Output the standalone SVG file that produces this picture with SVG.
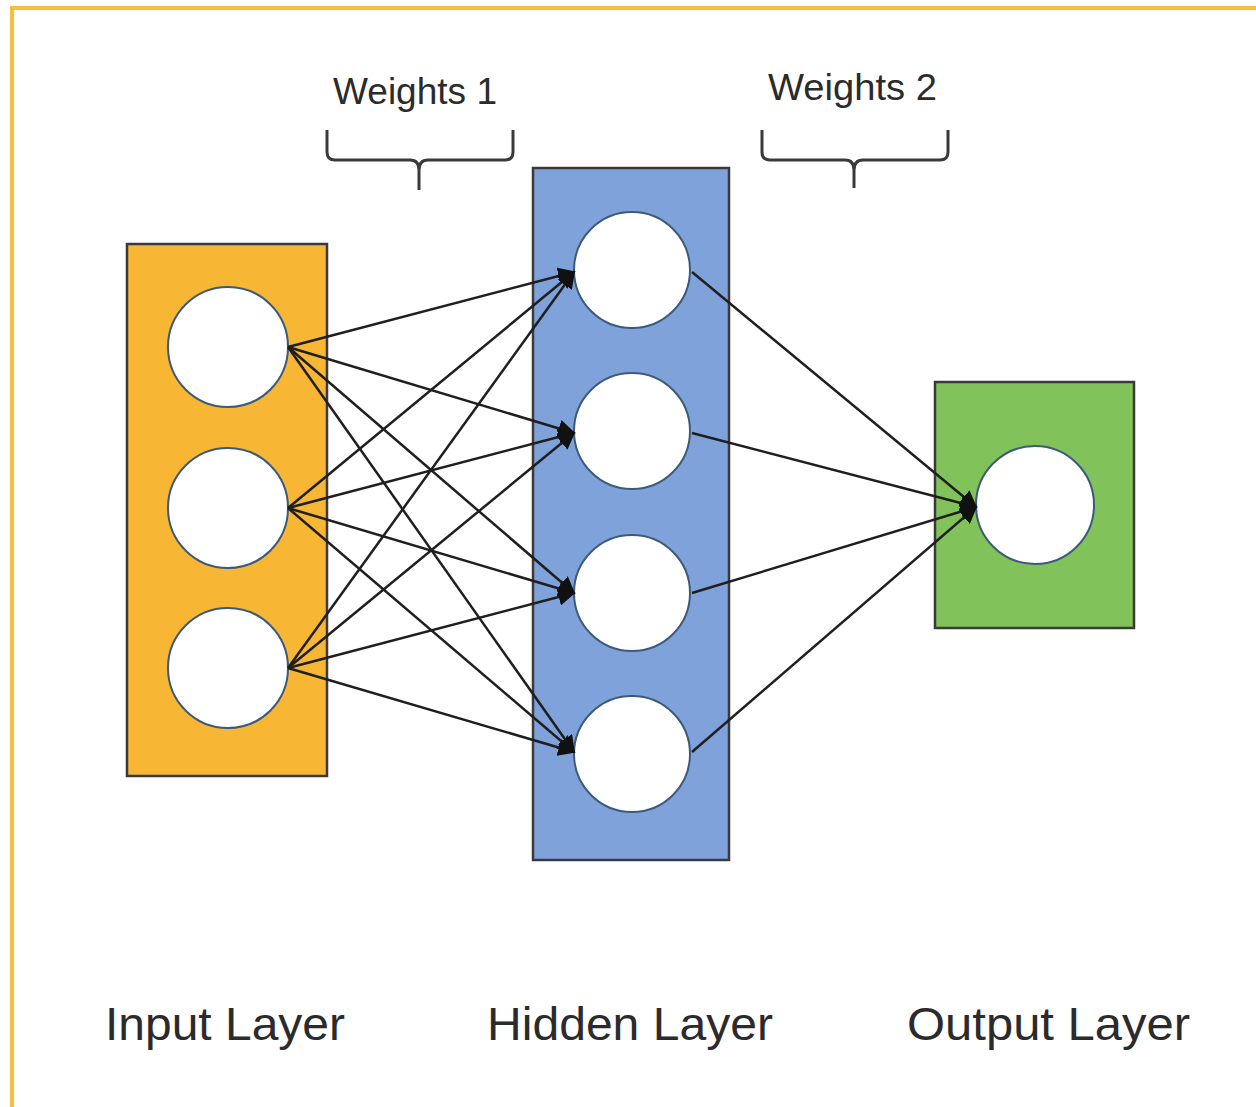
<svg xmlns="http://www.w3.org/2000/svg" width="1256" height="1107" viewBox="0 0 1256 1107">
<style>
.frame{stroke:#F7BE3A;stroke-width:4;fill:none}
.box{stroke:#3a3a3a;stroke-width:2.5}
.node{fill:#fff;stroke:#3c5a7a;stroke-width:2}
.edge{stroke:#1f1f1f;stroke-width:2.5;fill:none}
.brace{stroke:#3a3a3a;stroke-width:3;fill:none;stroke-linejoin:round}
.lbl{font-family:"Liberation Sans",Arial,sans-serif;fill:#2b2b2b}
</style>
<defs>
<marker id="ah" viewBox="0 0 10 10" refX="9" refY="5" markerWidth="7" markerHeight="7" markerUnits="strokeWidth" orient="auto">
<path d="M0,0 L10,5 L0,10 z" fill="#111"/>
</marker>
</defs>
<rect width="1256" height="1107" fill="#fff"/>
<path class="frame" d="M12,1107 V8 H1256"/>
<g id="weights1">
<text class="lbl" x="333" y="104" font-size="37" textLength="164" lengthAdjust="spacingAndGlyphs">Weights 1</text>
<path class="brace" d="M327,130 V152 Q327,160 335,160 H410 Q419,160 419,170 V190 M419,170 Q419,160 428,160 H505 Q513,160 513,152 V130"/>
</g>
<g id="weights2">
<text class="lbl" x="768" y="100" font-size="37" textLength="169" lengthAdjust="spacingAndGlyphs">Weights 2</text>
<path class="brace" d="M762,130 V152 Q762,160 770,160 H845 Q854,160 854,170 V188 M854,170 Q854,160 863,160 H940 Q948,160 948,152 V130"/>
</g>
<g id="input-layer">
<rect class="box" x="127" y="244" width="200" height="532" fill="#F7B634"/>
<circle class="node" cx="228" cy="347" r="60"/>
<circle class="node" cx="228" cy="508" r="60"/>
<circle class="node" cx="228" cy="668" r="60"/>
</g>
<g id="hidden-layer">
<rect class="box" x="533" y="168" width="196" height="692" fill="#7FA2DA"/>
<circle class="node" cx="632" cy="270" r="58"/>
<circle class="node" cx="632" cy="431" r="58"/>
<circle class="node" cx="632" cy="593" r="58"/>
<circle class="node" cx="632" cy="754" r="58"/>
</g>
<g id="output-layer">
<rect class="box" x="935" y="382" width="199" height="246" fill="#82C25A"/>
<circle class="node" cx="1035" cy="505" r="59"/>
</g>
<g id="connectors">
<line class="edge" marker-end="url(#ah)" x1="288" y1="347" x2="574" y2="272"/>
<line class="edge" marker-end="url(#ah)" x1="288" y1="347" x2="574" y2="433"/>
<line class="edge" marker-end="url(#ah)" x1="288" y1="347" x2="574" y2="593"/>
<line class="edge" marker-end="url(#ah)" x1="288" y1="347" x2="574" y2="752"/>
<line class="edge" marker-end="url(#ah)" x1="288" y1="508" x2="574" y2="272"/>
<line class="edge" marker-end="url(#ah)" x1="288" y1="508" x2="574" y2="433"/>
<line class="edge" marker-end="url(#ah)" x1="288" y1="508" x2="574" y2="593"/>
<line class="edge" marker-end="url(#ah)" x1="288" y1="508" x2="574" y2="752"/>
<line class="edge" marker-end="url(#ah)" x1="288" y1="668" x2="574" y2="272"/>
<line class="edge" marker-end="url(#ah)" x1="288" y1="668" x2="574" y2="433"/>
<line class="edge" marker-end="url(#ah)" x1="288" y1="668" x2="574" y2="593"/>
<line class="edge" marker-end="url(#ah)" x1="288" y1="668" x2="574" y2="752"/>
<line class="edge" marker-end="url(#ah)" x1="692" y1="272" x2="976" y2="507"/>
<line class="edge" marker-end="url(#ah)" x1="692" y1="433" x2="976" y2="507"/>
<line class="edge" marker-end="url(#ah)" x1="692" y1="593" x2="976" y2="507"/>
<line class="edge" marker-end="url(#ah)" x1="692" y1="752" x2="976" y2="507"/>
</g>
<g id="labels">
<text class="lbl" x="105" y="1040" font-size="46" textLength="240" lengthAdjust="spacingAndGlyphs">Input Layer</text>
<text class="lbl" x="487" y="1040" font-size="46" textLength="286" lengthAdjust="spacingAndGlyphs">Hidden Layer</text>
<text class="lbl" x="907" y="1040" font-size="46" textLength="283" lengthAdjust="spacingAndGlyphs">Output Layer</text>
</g>
</svg>
